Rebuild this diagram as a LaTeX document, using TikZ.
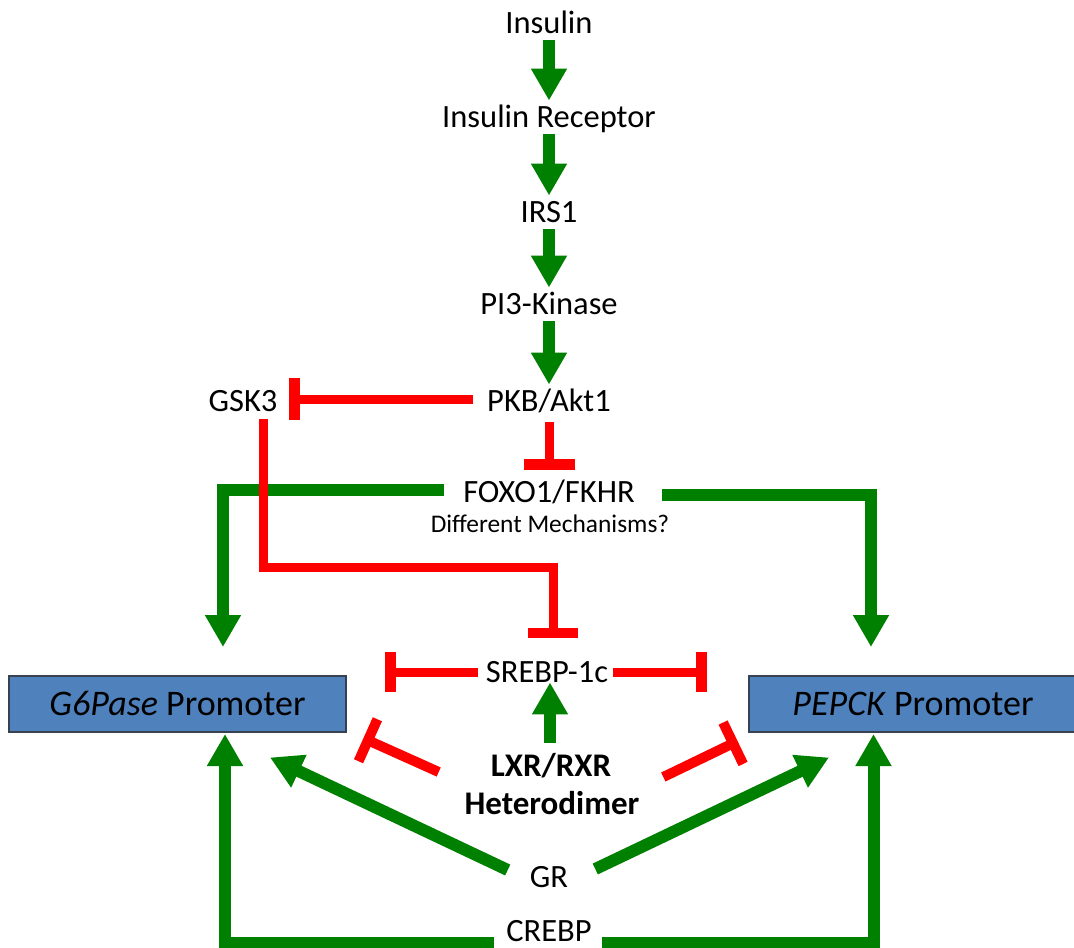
\documentclass[tikz,border=0pt]{standalone}
\usepackage{fontspec}
\setmainfont{Carlito}
\usetikzlibrary{arrows.meta,calc}
\definecolor{ggreen}{RGB}{0,128,0}
\definecolor{rred}{RGB}{255,0,0}
\definecolor{boxfill}{RGB}{79,129,189}
\definecolor{boxdraw}{RGB}{55,65,80}
\begin{document}
\begin{tikzpicture}[x=1pt,y=-1pt,
  lbl/.style={font=\fontsize{32.5}{39}\selectfont, inner sep=0pt, text height=20.5pt, text depth=0pt},
  blbl/.style={font=\fontsize{33}{40}\selectfont\bfseries, inner sep=0pt, text height=20.5pt, text depth=0pt},
  slbl/.style={font=\fontsize{25.4}{30}\selectfont, inner sep=0pt, text height=16pt, text depth=0pt},
  promo/.style={draw=boxdraw, fill=boxfill, line width=2pt, minimum height=56pt, inner sep=0pt, font=\fontsize{36}{43}\selectfont},
  garrow/.style={draw=ggreen, line width=12pt, line join=miter, -{Triangle[length=32pt,width=34pt]}},
  rinh/.style={draw=rred, line width=9pt, line join=miter},
  vgap/.style={shorten <=6.5pt, shorten >=6pt}
]
\clip (0,0) rectangle (1074,948);

% nodes
\node[lbl] (ins)  at (549,23)  {Insulin};
\node[lbl] (insr) at (549,117) {Insulin Receptor};
\node[lbl] (irs)  at (549,212) {IRS1};
\node[lbl] (pi3)  at (549,304) {PI3-Kinase};
\node[lbl] (pkb)  at (549,401) {PKB/Akt1};
\node[lbl] (gsk)  at (243,401) {GSK3};
\node[lbl] (foxo) at (549,492) {FOXO1/FKHR};
\node[slbl] (mech) at (550,524) {Different Mechanisms?};
\node[lbl] (srebp) at (547,672) {SREBP-1c};
\node[blbl] (lxr) at (551,766) {LXR/RXR};
\node[blbl] (het) at (552,804) {Heterodimer};
\node[lbl] (grn)  at (549,877) {GR};
\node[lbl] (creb) at (549,931) {CREBP};
\node[promo, minimum width=337pt] (g6)  at (177.5,703.5) {\textit{G6Pase} Promoter};
\node[promo, minimum width=328pt] (pep) at (913,703.5) {\textit{PEPCK} Promoter};

% main cascade
\draw[garrow, vgap] (ins) -- (insr);
\draw[garrow, vgap] (insr) -- (irs);
\draw[garrow, vgap] (irs) -- (pi3);
\draw[garrow, vgap] (pi3) -- (pkb);

% PKB inhibitions
\draw[rinh, -{Bar[width=51pt,line width=11pt]}, shorten <=11pt, shorten >=12pt] (pkb) -- (foxo);
\draw[rinh, -{Bar[width=42pt,line width=11pt]}, shorten <=14pt, shorten >=11.5pt] ([yshift=2pt]pkb.west) -- ([yshift=2pt]gsk.east);

% FOXO to promoters
\draw[garrow] ([xshift=-19pt,yshift=2pt]foxo.west) -| ([xshift=45.5pt,yshift=27.5pt]g6.north);
\draw[garrow] ([xshift=27pt,yshift=-3pt]foxo.east) -| ([xshift=-42pt,yshift=27.5pt]pep.north);

% GSK3 inhibits SREBP-1c
\coordinate (gbend) at (263,567);
\draw[rinh, -{Bar[width=50pt,line width=10pt]}] ([xshift=20pt,yshift=-7.5pt]gsk.south) -- (gbend) -| ([xshift=6pt,yshift=23.75pt]srebp.north);

% SREBP-1c side inhibitions
\coordinate (sl) at (385,672);
\coordinate (sr) at (707,672);
\draw[rinh, -{Bar[width=40pt,line width=11pt]}, shorten <=7.5pt] (srebp.west) -- (sl);
\draw[rinh, -{Bar[width=40pt,line width=11pt]}, shorten <=4.5pt] (srebp.east) -- (sr);

% LXR/RXR
\draw[garrow] ([xshift=-1pt,yshift=12.75pt]lxr.north) -- ([xshift=3pt]srebp.south);
\coordinate (ll) at (363.4,738.2);
\coordinate (lr) at (737.6,741.1);
\draw[rinh, line width=10pt, -{Bar[width=46pt]}] ([xshift=-52pt,yshift=-6pt]lxr.west) -- (ll);
\draw[rinh, line width=10pt, -{Bar[width=46pt]}] ([xshift=52pt,yshift=-11pt]lxr.east) -- (lr);

% GR
\draw[garrow] ([xshift=-22pt,yshift=7pt]grn.west) -- ([xshift=92.5pt,yshift=-25pt]g6.south);
\draw[garrow] ([xshift=27pt,yshift=8pt]grn.east) -- ([xshift=-84pt,yshift=-25pt]pep.south);

% CREBP
\draw[garrow] ([xshift=-12pt,yshift=-12pt]creb.west) -| ([xshift=47.5pt,yshift=-1.5pt]g6.south);
\draw[garrow] ([xshift=10pt,yshift=-12pt]creb.east) -| ([xshift=-39.5pt,yshift=-1.5pt]pep.south);
\end{tikzpicture}
\end{document}
